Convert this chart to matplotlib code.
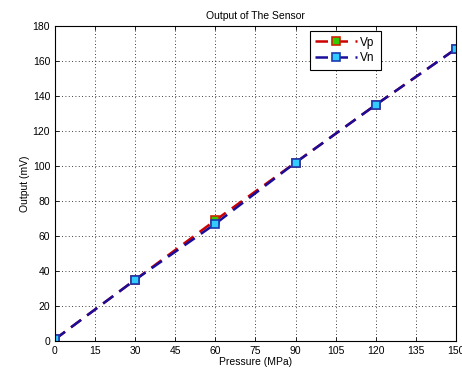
import matplotlib
matplotlib.use("Agg")
from matplotlib import pyplot as plt

pressure = [0, 30, 60, 90, 120, 150]
vp = [1, 35, 69, 102, 135, 167]
vn = [1, 35, 67, 102, 135, 167]

xticks = [0, 15, 30, 45, 60, 75, 90, 105, 120, 135, 150]
yticks = [0, 20, 40, 60, 80, 100, 120, 140, 160, 180]

plt.rcParams['font.family'] = ['Liberation Sans', 'DejaVu Sans']
plt.rcParams['font.size'] = 7.5

fig = plt.figure(figsize=(4.62, 3.78), dpi=100)
ax = fig.add_axes([0.119, 0.098, 0.868, 0.833])

ax.plot(pressure, vp, color='#cc0000', linestyle='--', linewidth=1.8,
        dashes=(5, 3), marker='s', markersize=6, markerfacecolor='#33cc00',
        markeredgecolor='#cc2200', markeredgewidth=1.2, label='Vp')
ax.plot(pressure, vn, color='#1a0d99', linestyle='--', linewidth=1.8,
        dashes=(5, 3), marker='s', markersize=6, markerfacecolor='#33ccff',
        markeredgecolor='#1a3ab0', markeredgewidth=1.2, label='Vn')

ax.set_xlim(0, 150)
ax.set_ylim(0, 180)
ax.set_xticks(xticks)
ax.set_yticks(yticks)
ax.grid(True, color='black', linestyle=(0, (1, 3)), linewidth=0.6)
ax.tick_params(direction='in', length=3, width=0.6, top=True, right=True)
for s in ax.spines.values():
    s.set_linewidth(0.8)

ax.set_title('Output of The Sensor', fontsize=7.5, pad=5)
ax.set_xlabel('Pressure (MPa)', labelpad=1)
ax.set_ylabel('Output (mV)', labelpad=2)

leg = ax.legend(loc='upper left', bbox_to_anchor=(0.62, 1.004), fancybox=False,
                framealpha=1, edgecolor='black', borderpad=0.5, fontsize=8.5,
                handlelength=3.5, handletextpad=0.3, labelspacing=0.3)
leg.get_frame().set_linewidth(0.8)

fig.savefig('out.png', dpi=100)
